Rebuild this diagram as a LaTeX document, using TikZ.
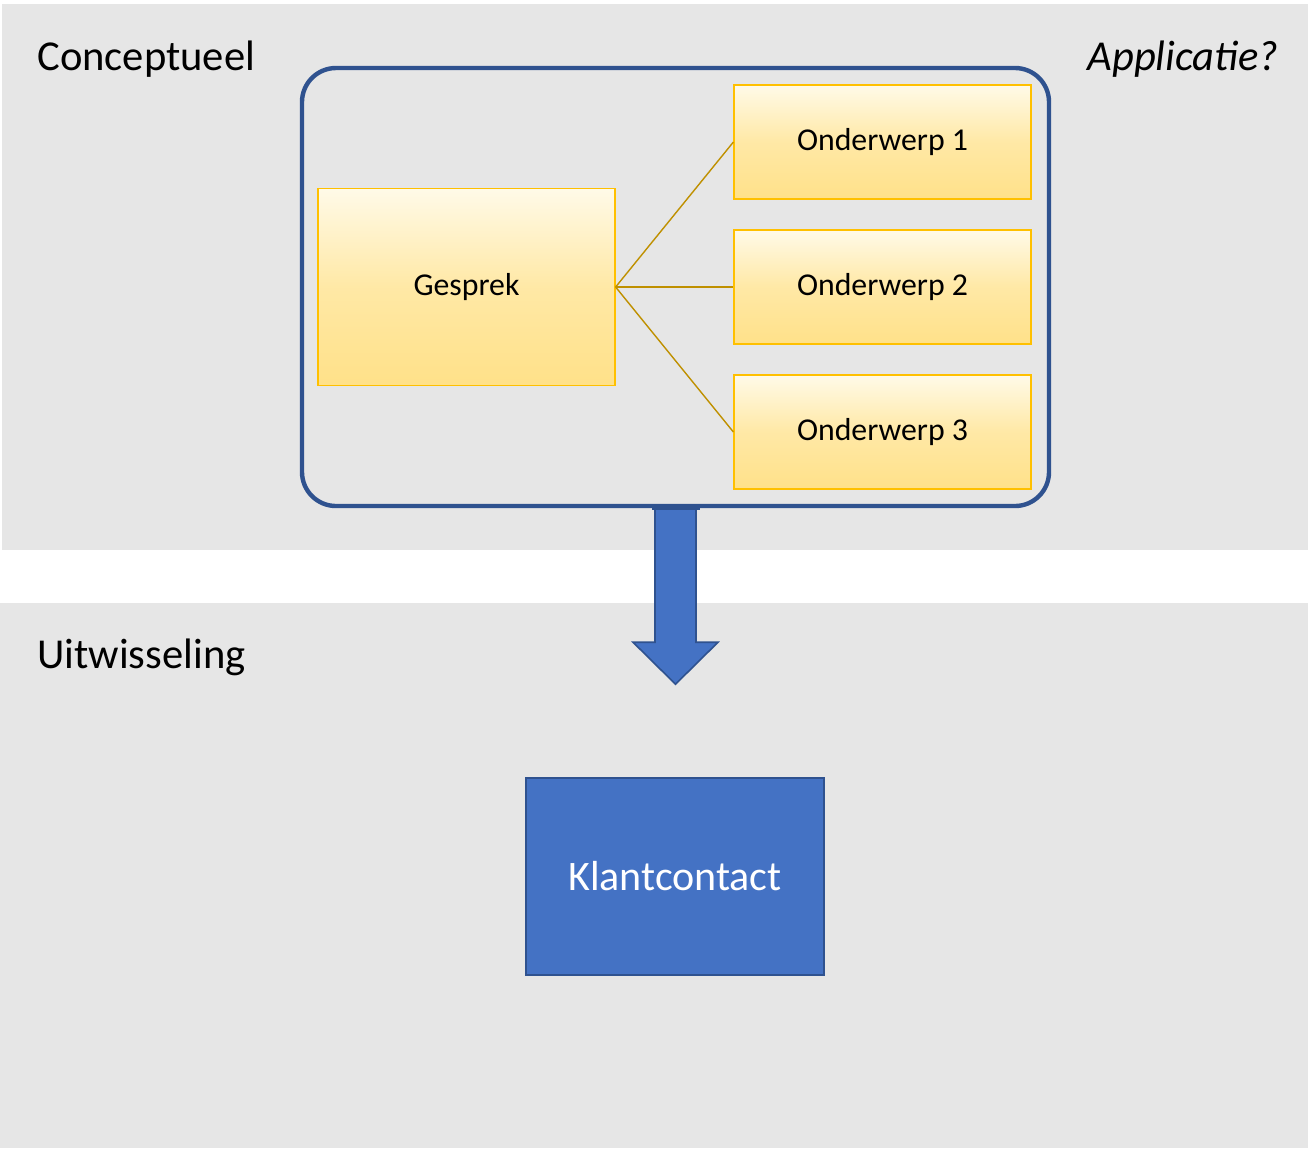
\documentclass[tikz,border=0pt]{standalone}
\usepackage{fontspec}
\setmainfont{Carlito}
\usepackage{tikz}
\usepackage{xcolor}

\definecolor{panelgray}{HTML}{E6E6E6}
\definecolor{framblue}{HTML}{2F528F}
\definecolor{fillblue}{HTML}{4472C4}
\definecolor{goldline}{HTML}{FFC000}
\definecolor{goldlink}{HTML}{BF9000}
\definecolor{goldtop}{HTML}{FFFAE8}
\definecolor{goldbot}{HTML}{FFE189}

\tikzset{
  gold/.style={draw=goldline, line width=0.6pt, top color=goldtop, bottom color=goldbot,
    middle color=goldbot!70!goldtop, font=\fontsize{15.9}{18}\selectfont,
    minimum width=148.5pt, inner sep=0pt},
  link/.style={draw=goldlink, line width=0.7pt},
  title/.style={font=\fontsize{21.3}{24}\selectfont, inner sep=0pt}
}

\begin{document}
\begin{tikzpicture}[x=0.5pt, y=-0.5pt]
    \useasboundingbox (0,0) rectangle (1309,1148);
    %% the two panels
    \fill [panelgray] (2,4) rectangle (1308,550);
    \fill [panelgray] (0,603) rectangle (1308,1148);
    \node [title, anchor=base west] (concept) at (37,70) {Conceptueel};
    \node [title, anchor=base east] (appl) at (1279,70) {\itshape Applicatie?};
    \node [title, anchor=base west] (uitw) at (37,668) {Uitwisseling};

    \node [draw=framblue, line width=2.2pt, rounded corners=17pt,
      minimum width=373.5pt, minimum height=219pt] (frame) at (675.5,287) {};

    \node [gold, minimum height=98.5pt] (gesprek) at (466.5,287) {Gesprek};
    \node [gold, minimum height=57pt] (ow1) at (882.5,142) {Onderwerp 1};
    \node [gold, minimum height=57pt] (ow2) at (882.5,287) {Onderwerp 2};
    \node [gold, minimum height=57pt] (ow3) at (882.5,432) {Onderwerp 3};
    \foreach \o in {ow1,ow2,ow3} \draw [link] (gesprek.east) -- (\o.west);

    %% block arrow down
    \draw [fill=fillblue, draw=framblue, line width=0.8pt, line join=miter]
      ([xshift=-10.25pt]frame.south) -- ++(0,134) -- ++(-22,0) -- ++(42.5,42)
      -- ++(42.5,-42) -- ++(-22,0) -- ++(0,-134) -- cycle;
    \draw [framblue, line width=2.2pt] ([xshift=-12pt]frame.south) -- ([xshift=12pt]frame.south);

    \node [fill=fillblue, draw=framblue, line width=0.8pt, text=white,
      minimum width=149pt, minimum height=98.5pt,
      font=\fontsize{21}{24}\selectfont] (klant) at (675,876.5) {Klantcontact};
  \end{tikzpicture}
\end{document}
